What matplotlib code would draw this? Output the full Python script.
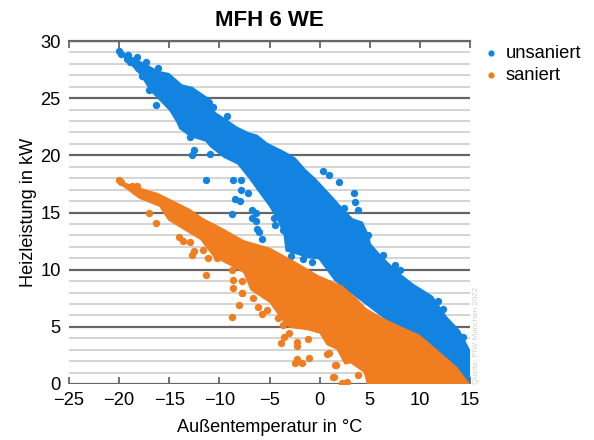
import matplotlib
matplotlib.use("Agg")
import matplotlib.pyplot as plt

plt.rcParams['font.family'] = ['Liberation Sans', 'DejaVu Sans']

title = "MFH 6 WE"
x_label = "Außentemperatur in °C"
y_label = "Heizleistung in kW"
source = "Quelle: FIW München 2022"
series_names = ["unsaniert", "saniert"]
x_ticks = [-25, -20, -15, -10, -5, 0, 5, 10, 15]
y_major = [0, 5, 10, 15, 20, 25, 30]
y_minor = [1, 2, 3, 4, 6, 7, 8, 9, 11, 12, 13, 14, 16, 17, 18, 19, 21, 22, 23, 24, 26, 27, 28, 29]

blue_upper_x = [-20, -18.2, -16.9, -16.1, -15, -13.7, -12.7, -10.7, -10.4, -9.2, -8.2, -7, -6.2, -5.2, -3.6, -2.4, -1.4, -0.4, 1.4, 2.4, 3.3, 4.3, 5, 5.1, 6.3, 8, 9.3, 11.3, 12.7, 14, 15]
blue_upper_y = [29.2, 28.4, 27.8, 27.4, 27.2, 26.2, 26, 24.8, 23.8, 23.1, 22.5, 22, 21.8, 21.1, 20.4, 19.8, 18.8, 18, 16.3, 15.3, 14.5, 14.2, 12.9, 12.3, 11.1, 9.7, 8.8, 7.7, 5.9, 4.7, 3]
blue_lower_x = [-20, -17.9, -16.9, -16.1, -15, -14.3, -14, -12.9, -11.4, -10.9, -9.6, -8.2, -7.1, -6.2, -5.1, -4.2, -3.6, -3.4, -2.2, -1.2, -0.1, 1.5, 15]
blue_lower_y = [29, 27, 25.6, 24.9, 23.9, 22.9, 22.3, 21.6, 21.2, 20.7, 19.8, 19.2, 18, 16.9, 15.6, 14.3, 13, 11.6, 11.3, 11, 10.9, 9, 0]
blue_extra_x = [-20.0, -19.8, -19.1, -19.2, -18.9, -18.2, -17.3, -18.1, -17.7, -16.1, -17, -16.3, -12.9, -12.7, -12.5, -10.9, -11.3, -8.6, -7.8, -7.8, -7.1, -8.4, -7.9, -8.7, -6.7, -6.3, -6.7, -6.3, -6.2, -6, -5.7, -4.6, -3.7, 0.3, 0.9, 1.9, 3.4, 3.5, 3.8, 2.4, 6.3, 7.5, 8, 4.8, 11.8, 12.3, 14.3, -2.9, -1.7, -0.8, -10.6, -4.5, -9.2]
blue_extra_y = [29.1, 28.9, 28.8, 28.4, 28.2, 28.6, 28.2, 27.6, 26.9, 27.6, 25.7, 24.4, 21.6, 20, 20.5, 20.1, 17.8, 17.8, 17.8, 17, 16.7, 16.2, 16, 14.9, 15.2, 15, 14.5, 14.3, 13.6, 13.3, 12.7, 14.5, 13.5, 18.6, 18.3, 17.7, 16.7, 15.9, 15.2, 15.4, 11.3, 10.4, 10, 13, 7.3, 6.6, 4.1, 11.2, 10.9, 10.7, 24.2, 13.9, 23.4]

orange_upper_x = [-20, -18, -16.1, -12.9, -11.6, -9.6, -7.6, -4.9, -2.2, -0.1, 2.3, 3.7, 4.7, 6.3, 7.7, 10, 12, 13.7, 15]
orange_upper_y = [17.8, 17.2, 16.7, 15.3, 14.5, 13.6, 12.6, 11.9, 10.6, 9.5, 8.6, 7.5, 6.6, 5.8, 5.2, 4.3, 2.8, 1.5, 0]
orange_lower_x = [-20, -18, -16, -15.1, -13.6, -11.9, -10.6, -8.6, -7.6, -6.9, -5, -3.8, -3, -1.2, 0, 0.7, 1.7, 2.5, 3.1, 4.4, 4.7, 15]
orange_lower_y = [17.5, 16.2, 15.5, 14.3, 13.5, 12.6, 11.1, 10.2, 9.7, 8.2, 7.1, 5.6, 4.9, 4.7, 4.4, 3.4, 3, 1.7, 1.8, 1, 0, 0]
orange_extra_x = [-20, -19.8, -18.7, -18.4, -18.2, -17.6, -17, -16.3, -14, -13.6, -12.9, -12.5, -12.7, -11.1, -11.3, -8.6, -7.7, -8.6, -7.7, -8, -8.7, -5.7, -5.2, -3.9, -2.5, -8.7, -11.6, -10.2, -7.7, -6.6, -6.1, -4.2, -3.7, -3.1, -3.6, -2.3, -2.3, -1.2, -1.1, -2.3, -1.8, 0.7, 1.5, 1.3, 2.2, 2.7, 0.9, 1.6, 1.4, 3.8, 2.4, 3.1]
orange_extra_y = [17.8, 17.7, 17.3, 16.9, 17.3, 16.6, 15, 14.1, 12.9, 12.5, 12.4, 11.6, 11.3, 11, 9.5, 9.1, 9, 8.4, 8, 6.9, 5.9, 6.1, 6.5, 3.6, 1.8, 10, 11.7, 11, 8, 7.5, 6.7, 5.8, 5.2, 4.5, 4.1, 3.7, 3.3, 3.9, 2.3, 2.2, 1.8, 2.6, 1.7, 0.6, 0.1, 0.2, 2.7, 1.7, 0.6, 0.8, 3.6, 3.2]

BLUE = "#1283e0"
ORANGE = "#f07d20"
W, H = 594, 440
fig = plt.figure(figsize=(W / 100, H / 100), dpi=100)
ax = fig.add_axes([69 / W, 1 - 384 / H, 401 / W, 343 / H])
ax.set_xlim(-25, 15)
ax.set_ylim(0, 30)
ax.set_axisbelow(True)
for v in y_minor:
    ax.axhline(v, color="#d4d4d4", lw=1.4, zorder=1)
for v in y_major:
    ax.axhline(v, color="#666666", lw=1.6, zorder=1.5)


def blob(ux, uy, lx, ly, ex, ey, color, z, label):
    polygon_x = list(ux) + list(lx)[::-1]
    polygon_y = list(uy) + list(ly)[::-1]
    ax.fill(polygon_x, polygon_y, color=color, lw=0, zorder=z)
    ax.scatter(ex, ey, s=28, color=color, lw=0, zorder=z)
    ax.scatter([], [], s=20, color=color, lw=0, label=label)


blob(blue_upper_x, blue_upper_y, blue_lower_x, blue_lower_y, blue_extra_x, blue_extra_y, BLUE, 3, series_names[0])
blob(orange_upper_x, orange_upper_y, orange_lower_x, orange_lower_y, orange_extra_x, orange_extra_y, ORANGE, 4, series_names[1])

for s in ["left", "right", "bottom"]:
    ax.spines[s].set_visible(False)
ax.spines["top"].set_color("#666666")
ax.spines["top"].set_linewidth(1.6)
ax.set_xticks(x_ticks)
ax.set_yticks(y_major)
ax.tick_params(axis="x", direction="in", length=5, width=1.3, color="#666666", top=True, bottom=True, labelsize=13.2, pad=6)
ax.tick_params(axis="y", length=0, labelsize=13.2, pad=6)
for lab in ax.get_yticklabels():
    lab.set_verticalalignment("center_baseline")
ax.set_xlabel(x_label, fontsize=13.1, labelpad=7)
ax.set_ylabel(y_label, fontsize=13.1, labelpad=2.4)
fig.text(269 / W, 1 - 20 / H, title, fontsize=16, fontweight="bold", ha="center", va="center")
fig.text(476 / W, 1 - 384 / H, source, fontsize=5.8, color="#d0d0d0", rotation=90, ha="center", va="bottom")
leg = fig.legend(*ax.get_legend_handles_labels(), loc="upper left", bbox_to_anchor=(473 / W, 1 - 45 / H), frameon=False,
                 fontsize=13.2, labelspacing=0.25, handletextpad=-0.22, borderpad=0, borderaxespad=0)
fig.savefig("out.png", dpi=100)
